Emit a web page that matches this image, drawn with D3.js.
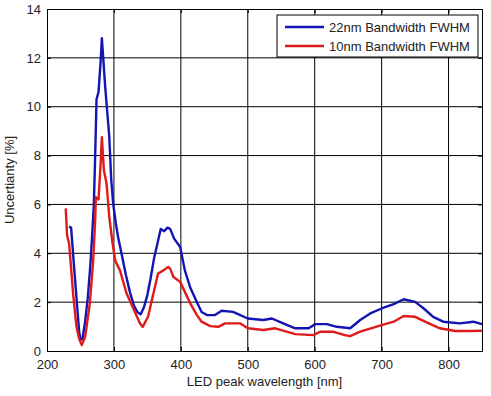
<!DOCTYPE html>
<html>
<head>
<meta charset="utf-8">
<script src="https://cdn.jsdelivr.net/npm/d3@7"></script>
<style>
  body { margin: 0; background: #fff; }
  svg text { font-family: "Liberation Sans", Arial, sans-serif; }
</style>
</head>
<body>
<div id="chart"></div>
<script>
// series: wavelength [nm] and uncertainty [%]
var blueX = [233,236,237,240,244,248,250,253,257,261,265,268,270,272,274,277,280,282,284,287,290,293,296,299,303,306,312,318,324,330,335,340,345,350,355,360,365,370,375,380,384,390,399,406,414,424,431,439,451,461,478,500,523,536,553,571,591,601,618,633,653,668,683,700,718,733,750,763,777,792,817,837,850];
var blueY = [5.1,5.05,4.7,3.6,2.2,0.8,0.45,0.5,1.2,2.2,3.6,5.0,6.0,8.0,10.3,10.6,11.8,12.8,12.0,10.8,9.8,8.8,7.0,6.0,5.2,4.7,3.9,3.1,2.4,1.85,1.6,1.5,1.8,2.3,3.0,3.8,4.4,5.0,4.9,5.05,5.0,4.6,4.26,3.3,2.6,2.0,1.6,1.47,1.47,1.65,1.6,1.33,1.27,1.33,1.13,0.93,0.93,1.1,1.1,0.99,0.93,1.27,1.54,1.74,1.92,2.12,2.01,1.74,1.4,1.2,1.13,1.2,1.1];

var redX = [228,230,233,236,239,244,248,252,257,264,269,272,273,277,280,282,285,289,293,298,302,309,319,329,339,343,351,359,366,374,381,384,389,399,406,414,424,431,444,456,466,489,500,523,541,571,598,608,627,645,653,668,700,718,733,750,765,787,810,832,850];
var redY = [5.84,4.73,4.4,3.4,2.35,1.0,0.5,0.24,0.58,1.95,3.7,5.35,6.3,6.2,7.6,8.75,7.4,6.85,5.5,4.4,3.7,3.3,2.35,1.74,1.13,0.99,1.4,2.35,3.17,3.3,3.44,3.37,3.03,2.83,2.42,1.95,1.47,1.2,1.02,0.99,1.13,1.13,0.93,0.86,0.93,0.69,0.65,0.79,0.79,0.65,0.61,0.79,1.06,1.2,1.43,1.4,1.2,0.93,0.82,0.82,0.83];

var xTicks = [200,300,400,500,600,700,800];
var yTicks = [0,2,4,6,8,10,12,14];
var seriesNames = ["22nm Bandwidth FWHM", "10nm Bandwidth FWHM"];
var seriesColors = ["#1414b4", "#e01a1a"];

// set the dimensions and margins of the graph
var margin = {top: 9, right: 9, bottom: 45, left: 47},
    width = 491 - margin.left - margin.right,
    height = 396 - margin.top - margin.bottom;

var svg = d3.select("#chart")
  .append("svg")
    .attr("width", 491)
    .attr("height", 396)
  .append("g")
    .attr("transform", "translate(" + margin.left + "," + margin.top + ")");

var x = d3.scaleLinear().domain([200, 850]).range([0, width]);
var y = d3.scaleLinear().domain([0, 14]).range([height, 0]);

// grid
svg.append("g").selectAll("line.gx")
  .data(xTicks.slice(1))
  .enter().append("line")
    .attr("x1", function(d) { return x(d); })
    .attr("x2", function(d) { return x(d); })
    .attr("y1", 0).attr("y2", height)
    .attr("stroke", "#000").attr("stroke-width", 1);
svg.append("g").selectAll("line.gy")
  .data(yTicks.slice(1, -1))
  .enter().append("line")
    .attr("x1", 0).attr("x2", width)
    .attr("y1", function(d) { return y(d); })
    .attr("y2", function(d) { return y(d); })
    .attr("stroke", "#000").attr("stroke-width", 1);

// axes with inward ticks
var xAxis = svg.append("g")
  .attr("transform", "translate(0," + height + ")")
  .call(d3.axisBottom(x).tickValues(xTicks).tickSize(-4).tickPadding(9));
var xTop = svg.append("g")
  .call(d3.axisTop(x).tickValues(xTicks).tickSize(-4).tickFormat(""));
var yAxis = svg.append("g")
  .call(d3.axisLeft(y).tickValues(yTicks).tickSize(-4).tickPadding(6));
var yRight = svg.append("g")
  .attr("transform", "translate(" + width + ",0)")
  .call(d3.axisRight(y).tickValues(yTicks).tickSize(-4).tickFormat(""));

[xAxis, xTop, yAxis, yRight].forEach(function(g) {
  g.select(".domain").attr("stroke", "#000").attr("stroke-width", 1);
  g.selectAll(".tick line").attr("stroke", "#000");
  g.selectAll("text").attr("font-size", 13).attr("fill", "#222")
    .style("font-family", "'Liberation Sans', Arial, sans-serif");
});

// lines
var line = d3.line()
  .x(function(d) { return x(d[0]); })
  .y(function(d) { return y(d[1]); });

var blueData = blueX.map(function(v, i) { return [v, blueY[i]]; });
var redData = redX.map(function(v, i) { return [v, redY[i]]; });

svg.append("path")
  .datum(blueData)
  .attr("d", line)
  .attr("fill", "none")
  .attr("stroke", seriesColors[0])
  .attr("stroke-width", 2.4)
  .attr("stroke-linejoin", "round");
svg.append("path")
  .datum(redData)
  .attr("d", line)
  .attr("fill", "none")
  .attr("stroke", seriesColors[1])
  .attr("stroke-width", 2.4)
  .attr("stroke-linejoin", "round");

// axis labels
svg.append("text")
  .attr("x", width / 2)
  .attr("y", height + 35)
  .attr("text-anchor", "middle")
  .attr("font-size", 13)
  .attr("fill", "#222")
  .text("LED peak wavelength [nm]");
svg.append("text")
  .attr("transform", "translate(" + (-33) + "," + (height / 2) + ") rotate(-90)")
  .attr("text-anchor", "middle")
  .attr("font-size", 13)
  .attr("fill", "#222")
  .text("Uncertianty [%]");

// legend
var legend = svg.append("g")
  .attr("transform", "translate(" + (277 - margin.left) + "," + (15 - margin.top) + ")");
legend.append("rect")
  .attr("width", 201).attr("height", 42)
  .attr("fill", "#fff").attr("stroke", "#000").attr("stroke-width", 1);
seriesNames.forEach(function(name, i) {
  legend.append("line")
    .attr("x1", 8).attr("x2", 47)
    .attr("y1", 12 + i * 19).attr("y2", 12 + i * 19)
    .attr("stroke", seriesColors[i]).attr("stroke-width", 2.6);
  legend.append("text")
    .attr("x", 52).attr("y", 12 + i * 19)
    .attr("dy", "0.35em")
    .attr("font-size", 13)
    .attr("fill", "#222")
    .text(name);
});
</script>
</body>
</html>
